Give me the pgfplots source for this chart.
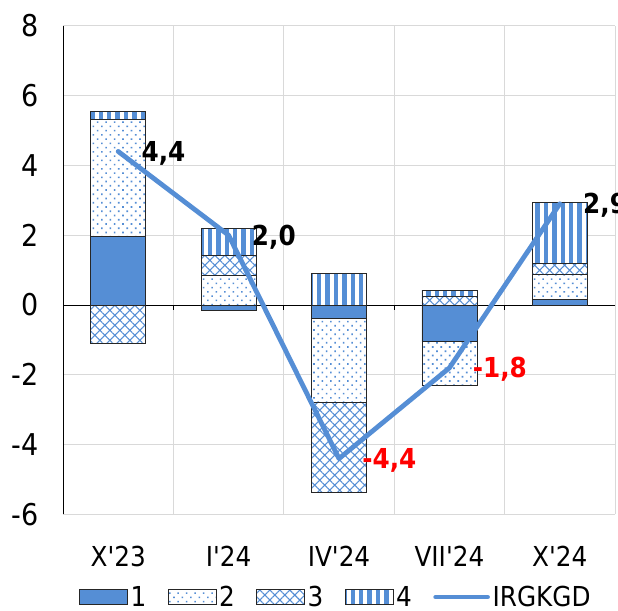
\documentclass[border=0pt]{standalone}
\usepackage{pgfplots}
\pgfplotsset{compat=1.18}
\usetikzlibrary{patterns.meta}
\usepackage{fontspec}
\setmainfont{DejaVu Sans Condensed}
\definecolor{blueC}{RGB}{85,142,213}
\definecolor{gridC}{RGB}{217,217,217}
\begin{document}
\begin{tikzpicture}
\tikzset{
  s1/.style={fill=blueC, draw=black!85, line width=0.6pt},
  s2/.style={fill=white, draw=black!85, line width=0.6pt, postaction={pattern={Dots[distance=4.5pt, radius=0.85pt, angle=45]}, pattern color=blueC}},
  s3/.style={fill=white, draw=black!85, line width=0.6pt, postaction={pattern={Hatch[angle=45, distance=5.3pt, line width=0.8pt]}, pattern color=blueC}},
  s4/.style={fill=white, draw=black!85, line width=0.6pt, postaction={pattern={Lines[angle=90, distance=6.3pt, line width=3.3pt]}, pattern color=blueC}},
}
\begin{axis}[
  name=ax,
  scale only axis,
  width=414pt, height=366.5pt,
  xmin=-0.5, xmax=4.5, ymin=-6, ymax=8,
  ybar stacked, bar width=41.25pt,
  axis line style={draw=none},
  xtick={0,1,2,3,4},
  xticklabels={{X\textquotesingle 23}, {I\textquotesingle 24}, {IV\textquotesingle 24}, {VII\textquotesingle 24}, {X\textquotesingle 24}},
  minor xtick={-0.5,0.5,1.5,2.5,3.5,4.5},
  xminorgrids, xmajorgrids=false,
  ytick={-6,-4,-2,0,2,4,6,8},
  yticklabels={-6,-4,-2,0,2,4,6,8},
  ymajorgrids,
  major tick length=0pt, minor tick length=0pt,
  grid style={gridC, line width=0.75pt},
  minor grid style={gridC, line width=0.75pt},
  yticklabel style={font=\fontsize{22.5}{26}\selectfont, xshift=-15pt},
  xticklabel style={font=\fontsize{20.6}{24}\selectfont, yshift=-20pt},
  clip=false,
]
\addplot[s1] coordinates {(0,1.96) (1,-0.15) (2,-0.38) (3,-1.05) (4,0.17)};
\addplot[s2] coordinates {(0,3.36) (1,0.85) (2,-2.42) (3,-1.24) (4,0.72)};
\addplot[s3] coordinates {(0,-1.10) (1,0.57) (2,-2.58) (3,0.24) (4,0.30)};
\addplot[s4] coordinates {(0,0.22) (1,0.77) (2,0.91) (3,0.19) (4,1.74)};
\draw[black, line width=0.75pt] (rel axis cs:0,0) -- (rel axis cs:0,1);
\draw[black, line width=0.75pt] (axis cs:-0.5,0) -- (axis cs:4.5,0);
\draw[black, line width=0.75pt] (axis cs:0.5,0) -- ([yshift=-4pt]axis cs:0.5,0);
\draw[black, line width=0.75pt] (axis cs:1.5,0) -- ([yshift=-4pt]axis cs:1.5,0);
\draw[black, line width=0.75pt] (axis cs:2.5,0) -- ([yshift=-4pt]axis cs:2.5,0);
\draw[black, line width=0.75pt] (axis cs:3.5,0) -- ([yshift=-4pt]axis cs:3.5,0);
\end{axis}
\begin{axis}[
  scale only axis,
  width=414pt, height=366.5pt,
  xmin=-0.5, xmax=4.5, ymin=-6, ymax=8,
  hide axis, clip=false,
  legend columns=5,
  legend style={draw=none, fill=none, at={(0.495,-0.169)}, anchor=center,
    font=\fontsize{20.6}{24}\selectfont,
    /tikz/every even column/.append style={column sep=14pt},
    /tikz/every odd column/.append style={column sep=0pt}},
  legend image code/.code={\draw[#1] (0pt,-5.6pt) rectangle (36pt,5.6pt);},
]
\addlegendimage{s1}
\addlegendimage{s2}
\addlegendimage{s3}
\addlegendimage{s4}
\addlegendimage{legend image code/.code={\draw[blueC, line width=3.5pt, line cap=round] (0pt,0pt) -- (39pt,0pt);}}
\legend{1,2,3,4,IRGKGD}
\addplot[blueC, line width=3.6pt, line join=round, line cap=round] coordinates {(0,4.4) (1,2.0) (2,-4.4) (3,-1.8) (4,2.9)};
\addplot[draw=none, mark=none, nodes near coords, point meta=explicit symbolic,
  every node near coord/.style={anchor=base west, xshift=14pt, yshift=-7.5pt, black, font=\fontsize{20.6}{24}\selectfont\bfseries}]
  table[meta=lab] {
x y lab
0 4.4 4,4
1 2.0 2,0
4 2.9 2,9
};
\addplot[draw=none, mark=none, nodes near coords, point meta=explicit symbolic,
  every node near coord/.style={anchor=base west, xshift=14pt, yshift=-7.5pt, red, font=\fontsize{20.6}{24}\selectfont\bfseries}]
  table[meta=lab] {
x y lab
2 -4.4 -4,4
3 -1.8 -1,8
};
\end{axis}
\pgfresetboundingbox
\path ([shift={(-47.25pt,-71.7pt)}]ax.south west) rectangle ([shift={(2.25pt,19.35pt)}]ax.north east);
\end{tikzpicture}
\end{document}
